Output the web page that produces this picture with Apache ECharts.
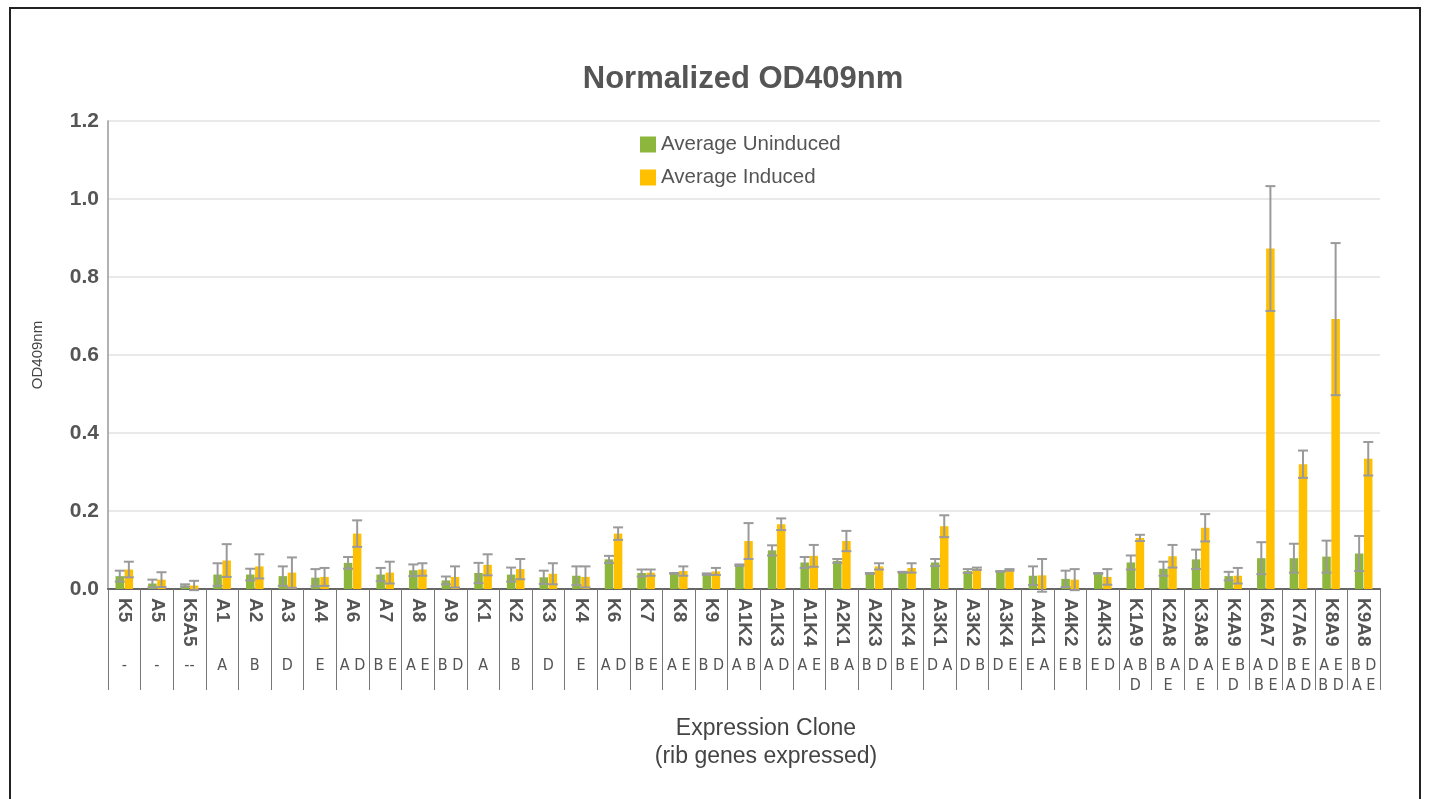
<!DOCTYPE html>
<html><head><meta charset="utf-8">
<script src="https://cdn.jsdelivr.net/npm/echarts@6/dist/echarts.min.js"></script>
<style>
html,body{margin:0;padding:0;background:#fff;}
#frame{position:absolute;left:9px;top:7px;width:1412px;height:820px;border:2px solid #222;box-sizing:border-box;}
#c{position:absolute;left:0;top:0;width:1430px;height:799px;}
</style></head>
<body><div id="frame"></div><div id="c"></div>
<script>
const clones = ['K5','A5','K5A5','A1','A2','A3','A4','A6','A7','A8','A9','K1','K2','K3','K4','K6','K7','K8','K9','A1K2','A1K3','A1K4','A2K1','A2K3','A2K4','A3K1','A3K2','A3K4','A4K1','A4K2','A4K3','K1A9','K2A8','K3A8','K4A9','K6A7','K7A6','K8A9','K9A8'];
const ribGenes = ['-','-','--','A','B','D','E','A D','B E','A E','B D','A','B','D','E','A D','B E','A E','B D','A B','A D','A E','B A','B D','B E','D A','D B','D E','E A','E B','E D','A B\nD','B A\nE','D A\nE','E B\nD','A D\nB E','B E\nA D','A E\nB D','B D\nA E'];
const uninduced = [0.033,0.014,0.009,0.037,0.037,0.033,0.029,0.067,0.037,0.048,0.022,0.041,0.037,0.030,0.034,0.076,0.041,0.040,0.038,0.061,0.099,0.068,0.072,0.040,0.043,0.068,0.046,0.045,0.034,0.026,0.040,0.068,0.052,0.076,0.033,0.079,0.079,0.083,0.091];
const uninducedErr = [0.014,0.010,0.003,0.029,0.015,0.025,0.022,0.015,0.017,0.015,0.010,0.026,0.018,0.017,0.024,0.009,0.009,0.001,0.002,0.002,0.013,0.014,0.005,0.001,0.001,0.009,0.005,0.001,0.024,0.021,0.001,0.018,0.018,0.025,0.011,0.041,0.037,0.041,0.045];
const induced = [0.050,0.024,0.009,0.073,0.058,0.042,0.031,0.142,0.042,0.050,0.031,0.062,0.051,0.039,0.031,0.142,0.042,0.046,0.045,0.123,0.166,0.085,0.123,0.058,0.054,0.161,0.052,0.049,0.035,0.024,0.031,0.131,0.084,0.157,0.034,0.873,0.320,0.692,0.334];
const inducedErr = [0.020,0.019,0.012,0.042,0.031,0.039,0.023,0.034,0.028,0.016,0.027,0.027,0.026,0.027,0.027,0.016,0.008,0.012,0.009,0.046,0.015,0.028,0.026,0.008,0.012,0.028,0.003,0.002,0.042,0.027,0.020,0.008,0.029,0.035,0.020,0.160,0.035,0.195,0.043];
const yTicks = [0,0.2,0.4,0.6,0.8,1.0,1.2];

const BW = 8.5, GAP = 0.6;
function errSeries(vals, errs, side) {
  return {
    type: 'custom', xAxisIndex: 0, z: 5,
    data: vals.map((v,i)=>[i, v, errs[i]]),
    renderItem: function(params, api) {
      const i = api.value(0), v = api.value(1), e = api.value(2);
      const hi = api.coord([i, v + e]);
      const lo = api.coord([i, v - e]);
      const x = hi[0] + side * (BW + GAP) / 2;
      const cap = 5;
      const st = {stroke:'#9a9a9a', lineWidth:2};
      return {type:'group', children:[
        {type:'line', shape:{x1:x,y1:hi[1],x2:x,y2:lo[1]}, style:st},
        {type:'line', shape:{x1:x-cap,y1:hi[1],x2:x+cap,y2:hi[1]}, style:st},
        {type:'line', shape:{x1:x-cap,y1:lo[1],x2:x+cap,y2:lo[1]}, style:st}
      ]};
    }
  };
}

const FONT = 'Liberation Sans, Arial, sans-serif';
const chart = echarts.init(document.getElementById('c'), null, {renderer:'canvas'});
chart.setOption({
  animation: false,
  title: {text:'Normalized OD409nm', left: 738, top: 59, textAlign:'center',
    textStyle:{fontFamily:FONT, fontSize:31, fontWeight:'bold', color:'#555'}},
  legend: {orient:'vertical', left: 635, top: 129, itemWidth:16, itemHeight:16, itemGap:12, icon:'rect',
    data:['Average Uninduced','Average Induced'],
    textStyle:{fontFamily:FONT, fontSize:20.5, color:'#555', lineHeight:21}},
  grid: {left:108, right:50, top:121, bottom:210, containLabel:false},
  xAxis: [{
    type:'category', data: clones, position:'bottom',
    axisLine:{lineStyle:{color:'#666', width:2}},
    axisTick:{show:true, interval:0, length:101, lineStyle:{color:'#777', width:1}},
    axisLabel:{interval:0, rotate:-90, margin:9, fontFamily:FONT, fontSize:19, fontWeight:'bold', color:'#555'},
    name:'Expression Clone\n(rib genes expressed)', nameLocation:'middle', nameGap:126,
    nameTextStyle:{fontFamily:FONT, fontSize:23, color:'#444', lineHeight:28, verticalAlign:'top', padding:[0,0,0,44]}
  },{
    type:'category', data: ribGenes, position:'bottom', offset:65,
    axisLine:{show:false}, axisTick:{show:false},
    axisLabel:{interval:0, margin:2, fontFamily:'Liberation Sans Narrow, DejaVu Sans Condensed, sans-serif', fontSize:16, lineHeight:20, color:'#555', verticalAlign:'top'}
  }],
  yAxis: {
    type:'value', min:0, max:1.2, interval:0.2,
    name:'OD409nm', nameLocation:'middle', nameGap:63, nameRotate:90,
    nameTextStyle:{fontFamily:FONT, fontSize:15, color:'#444'},
    axisLine:{show:true, lineStyle:{color:'#999', width:1.5}},
    axisTick:{show:false},
    axisLabel:{margin:9, formatter:v=>v.toFixed(1), fontFamily:FONT, fontSize:21, fontWeight:'bold', color:'#555'},
    splitLine:{lineStyle:{color:'#e2e2e2', width:1.5}}
  },
  series: [
    {name:'Average Uninduced', type:'bar', data: uninduced, barWidth:BW, barGap:'7%', itemStyle:{color:'#8DB63C'}},
    {name:'Average Induced', type:'bar', data: induced, barWidth:BW, itemStyle:{color:'#FFC000'}},
    errSeries(uninduced, uninducedErr, -1),
    errSeries(induced, inducedErr, 1)
  ]
});
</script></body></html>
